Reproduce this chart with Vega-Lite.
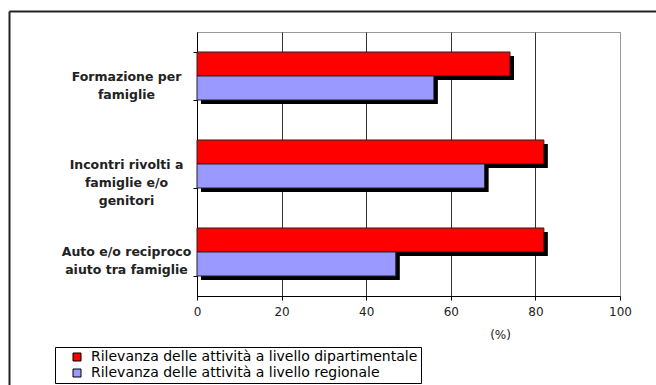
{
  "$schema": "https://vega.github.io/schema/vega-lite/v6.json",
  "autosize": {"type": "none"},
  "padding": {"left": 197, "top": 32, "right": 36, "bottom": 89},
  "width": 423,
  "height": 264,
  "background": "white",
  "config": {
    "view": {"stroke": "#999999", "strokeWidth": 1},
    "font": "DejaVu Sans"
  },
  "data": {
    "values": [
      {"attivita": "Formazione per|famiglie", "livello": "Rilevanza delle attività a livello dipartimentale", "pct": 74},
      {"attivita": "Formazione per|famiglie", "livello": "Rilevanza delle attività a livello regionale", "pct": 56},
      {"attivita": "Incontri rivolti a|famiglie e/o|genitori", "livello": "Rilevanza delle attività a livello dipartimentale", "pct": 82},
      {"attivita": "Incontri rivolti a|famiglie e/o|genitori", "livello": "Rilevanza delle attività a livello regionale", "pct": 68},
      {"attivita": "Auto e/o reciproco|aiuto tra famiglie", "livello": "Rilevanza delle attività a livello dipartimentale", "pct": 82},
      {"attivita": "Auto e/o reciproco|aiuto tra famiglie", "livello": "Rilevanza delle attività a livello regionale", "pct": 47}
    ]
  },
  "layer": [
    {
      "description": "outer frame: top and left border lines drawn as axis domains",
      "mark": {"type": "point", "opacity": 0},
      "encoding": {
        "x": {
          "field": "pct", "type": "quantitative",
          "scale": {"domain": [0, 1], "range": [-188, 459], "nice": false, "zero": false},
          "axis": {"orient": "top", "offset": 21, "ticks": false, "labels": false, "grid": false, "title": null, "domainColor": "#222222", "domainWidth": 2}
        },
        "y": {
          "field": "pct", "type": "quantitative",
          "scale": {"domain": [0, 1], "range": [-21, 353], "nice": false, "zero": false},
          "axis": {"orient": "left", "offset": 188, "ticks": false, "labels": false, "grid": false, "title": null, "domainColor": "#222222", "domainWidth": 2}
        }
      }
    },
    {
      "layer": [
        {
          "description": "drop shadows behind each bar",
          "mark": {"type": "bar", "color": "#000000", "xOffset": 4, "x2Offset": 4},
          "encoding": {
            "y": {"field": "attivita", "type": "nominal", "sort": null},
            "yOffset": {
              "field": "livello", "type": "nominal",
              "scale": {"range": [4, 52], "paddingInner": 0, "paddingOuter": 0}
            },
            "x": {"field": "pct", "type": "quantitative"}
          }
        },
        {
          "mark": {"type": "bar", "stroke": "#222222", "strokeWidth": 1},
          "encoding": {
            "y": {
              "field": "attivita", "type": "nominal", "sort": null,
              "scale": {"paddingInner": 0.4545, "paddingOuter": 0.2273},
              "axis": {
                "orient": "left",
                "title": null,
                "tickBand": "extent",
                "tickSize": 4,
                "tickColor": "#000000",
                "domainColor": "#000000",
                "labelExpr": "split(datum.label, '|')",
                "labelFont": "DejaVu Sans",
                "labelFontWeight": "bold",
                "labelFontSize": 12.5,
                "labelColor": "#222222",
                "labelAlign": "center",
                "labelBaseline": "middle",
                "labelLineHeight": 18,
                "labelPadding": 67,
                "labelLimit": 300
              }
            },
            "yOffset": {
              "field": "livello", "type": "nominal",
              "scale": {"paddingInner": 0, "paddingOuter": 0}
            },
            "x": {
              "field": "pct", "type": "quantitative",
              "scale": {"domain": [0, 100], "nice": false},
              "axis": {
                "orient": "bottom",
                "title": "(%)",
                "titleFont": "DejaVu Sans",
                "titleFontWeight": "normal",
                "titleFontSize": 12,
                "titleColor": "#222222",
                "titleX": 303,
                "titleY": 42,
                "titleBaseline": "alphabetic",
                "titleAlign": "center",
                "values": [0, 20, 40, 60, 80, 100],
                "tickSize": 4,
                "tickColor": "#000000",
                "domainColor": "#000000",
                "labelFont": "DejaVu Sans",
                "labelFontSize": 12,
                "labelColor": "#222222",
                "labelPadding": 6,
                "labelFlush": false,
                "grid": true,
                "gridColor": {"condition": {"test": "datum.value == 100", "value": "#999999"}, "value": "#333333"},
                "gridOpacity": 1
              }
            },
            "color": {
              "field": "livello", "type": "nominal",
              "scale": {
                "domain": ["Rilevanza delle attività a livello dipartimentale", "Rilevanza delle attività a livello regionale"],
                "range": ["#ff0000", "#9999ff"]
              },
              "legend": {
                "title": null,
                "orient": "none",
                "legendX": -142,
                "legendY": 315,
                "padding": 3,
                "strokeColor": "#000000",
                "symbolType": "square",
                "symbolSize": 64,
                "symbolOffset": 12,
                "symbolStrokeColor": "#000000",
                "symbolStrokeWidth": 1,
                "labelFont": "DejaVu Sans",
                "labelFontSize": 14,
                "labelColor": "#000000",
                "labelOffset": 7,
                "labelLimit": 400,
                "rowPadding": 2
              }
            }
          }
        }
      ],
      "resolve": {"scale": {"yOffset": "independent"}}
    }
  ],
  "resolve": {"scale": {"x": "independent", "y": "independent"}}
}
